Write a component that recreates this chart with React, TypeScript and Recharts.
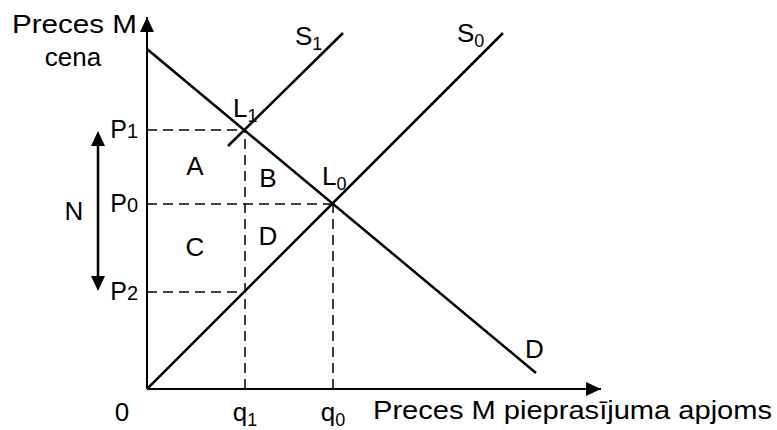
import { LineChart, Line, XAxis, YAxis, ReferenceDot, ReferenceLine } from 'recharts';

// quantity / price in chart units (origin at the axes crossing)
const demand = [{ x: 0, y: 340 }, { x: 389, y: 16 }];
const supply0 = [{ x: 0, y: 0 }, { x: 356, y: 356 }];
const supply1 = [{ x: 81, y: 243 }, { x: 196, y: 356 }];

const L1 = { x: 98, y: 259 };
const L0 = { x: 186, y: 185 };
const P2 = 97;

const qTicks = [0, L1.x, L0.x];
const qLabels = [['0', ''], ['q', '1'], ['q', '0']];
const pTicks = [P2, L0.y, L1.y];
const pLabels = [['P', '2'], ['P', '0'], ['P', '1']];

// text annotations: [main, subscript, x, y, anchor]
const notes: [string, string, number, number, string][] = [
  ['A', '', 48, 214, 'middle'],
  ['B', '', 121, 202, 'middle'],
  ['C', '', 48, 133, 'middle'],
  ['D', '', 121, 144, 'middle'],
  ['L', '1', 86, 272, 'start'],
  ['L', '0', 175, 204, 'start'],
  ['S', '1', 148, 344, 'start'],
  ['S', '0', 310, 347, 'start'],
  ['D', '', 378, 31, 'start'],
  ['N', '', -73, 169, 'middle'],
  ['cena', '', -74, 323, 'middle'],
];

const xMax = 454;
const yMax = 372;
const nArrowX = -49;

const FONT = '"Liberation Sans", Arial, sans-serif';

const dashed = [
  [{ x: 0, y: L1.y }, { x: L1.x, y: L1.y }],
  [{ x: L1.x, y: 0 }, { x: L1.x, y: L1.y }],
  [{ x: 0, y: L0.y }, { x: L0.x, y: L0.y }],
  [{ x: L0.x, y: 0 }, { x: L0.x, y: L0.y }],
  [{ x: 0, y: P2 }, { x: L1.x, y: P2 }],
];

const QTick = (props: any) => {
  const { x, payload } = props;
  const i = qTicks.indexOf(payload.value);
  const [m, s] = qLabels[i] || ['', ''];
  return (
    <text x={payload.value === 0 ? x - 25 : x} y={421} textAnchor="middle" fontFamily={FONT} fontSize={26} fill="#000">
      {m}
      {s && <tspan fontSize={18} dy={5}>{s}</tspan>}
    </text>
  );
};

const PTick = (props: any) => {
  const { y, payload } = props;
  const i = pTicks.indexOf(payload.value);
  const [m, s] = pLabels[i] || ['', ''];
  return (
    <text x={138} y={y + 8} textAnchor="end" fontFamily={FONT} fontSize={25} fill="#000">
      {m}
      <tspan fontSize={20}>{s}</tspan>
    </text>
  );
};

const tri = (dir: string) => (props: any) => {
  const { cx, cy } = props;
  let pts = '';
  if (dir === 'up') pts = `${cx},${cy} ${cx - 7},${cy + 15} ${cx + 7},${cy + 15}`;
  if (dir === 'down') pts = `${cx},${cy} ${cx - 7},${cy - 15} ${cx + 7},${cy - 15}`;
  if (dir === 'right') pts = `${cx},${cy} ${cx - 15},${cy - 7} ${cx - 15},${cy + 7}`;
  return <polygon points={pts} fill="#000" />;
};

const note = (m: string, s: string, anchor: string) => (props: any) => (
  <text x={props.cx} y={props.cy} textAnchor={anchor as any} fontFamily={FONT} fontSize={26} fill="#000">
    {m}
    {s && <tspan fontSize={18} dy={5}>{s}</tspan>}
  </text>
);

const wideText = (m: string, len: number) => (props: any) => (
  <text x={props.cx} y={props.cy} fontFamily={FONT} fontSize={26} fill="#000" textLength={len} lengthAdjust="spacingAndGlyphs">
    {m}
  </text>
);

export default function App() {
  return (
    <div style={{ position: 'absolute', left: 0, top: 0, width: 777, height: 430, background: '#fff' }}>
      <LineChart width={777} height={430} margin={{ top: 17, right: 176, bottom: 11, left: 87 }}>
        <XAxis
          dataKey="x"
          type="number"
          domain={[0, xMax]}
          ticks={qTicks}
          height={30}
          tickLine={false}
          axisLine={{ stroke: '#000', strokeWidth: 2 }}
          tick={<QTick />}
          interval={0}
          allowDataOverflow
        />
        <YAxis
          type="number"
          domain={[0, yMax]}
          ticks={pTicks}
          width={60}
          tickLine={false}
          axisLine={{ stroke: '#000', strokeWidth: 2 }}
          tick={<PTick />}
          interval={0}
          allowDataOverflow
        />
        {dashed.map((seg, i) => (
          <Line key={'d' + i} data={seg} dataKey="y" stroke="#000" strokeWidth={1.5} strokeDasharray="10 6" dot={false} isAnimationActive={false} />
        ))}
        <Line data={demand} dataKey="y" stroke="#000" strokeWidth={2.5} dot={false} isAnimationActive={false} />
        <Line data={supply0} dataKey="y" stroke="#000" strokeWidth={2.5} dot={false} isAnimationActive={false} />
        <Line data={supply1} dataKey="y" stroke="#000" strokeWidth={2.5} dot={false} isAnimationActive={false} />

        <ReferenceDot x={0} y={yMax} r={0} ifOverflow="visible" shape={tri('up')} />
        <ReferenceDot x={xMax} y={0} r={0} ifOverflow="visible" shape={tri('right')} />

        <ReferenceLine segment={[{ x: nArrowX, y: L1.y - 10 }, { x: nArrowX, y: P2 + 10 }]} stroke="#000" strokeWidth={2.5} ifOverflow="visible" />
        <ReferenceDot x={nArrowX} y={L1.y - 1} r={0} ifOverflow="visible" shape={tri('up')} />
        <ReferenceDot x={nArrowX} y={P2 + 1} r={0} ifOverflow="visible" shape={tri('down')} />

        {notes.map(([m, s, x, y, a], i) => (
          <ReferenceDot key={'n' + i} x={x} y={y} r={0} ifOverflow="visible" shape={note(m, s, a)} />
        ))}
        <ReferenceDot x={-135} y={356} r={0} ifOverflow="visible" shape={wideText('Preces M', 125)} />
        <ReferenceDot x={226} y={-30} r={0} ifOverflow="visible" shape={wideText('Preces M pieprasījuma apjoms', 399)} />
      </LineChart>
    </div>
  );
}
